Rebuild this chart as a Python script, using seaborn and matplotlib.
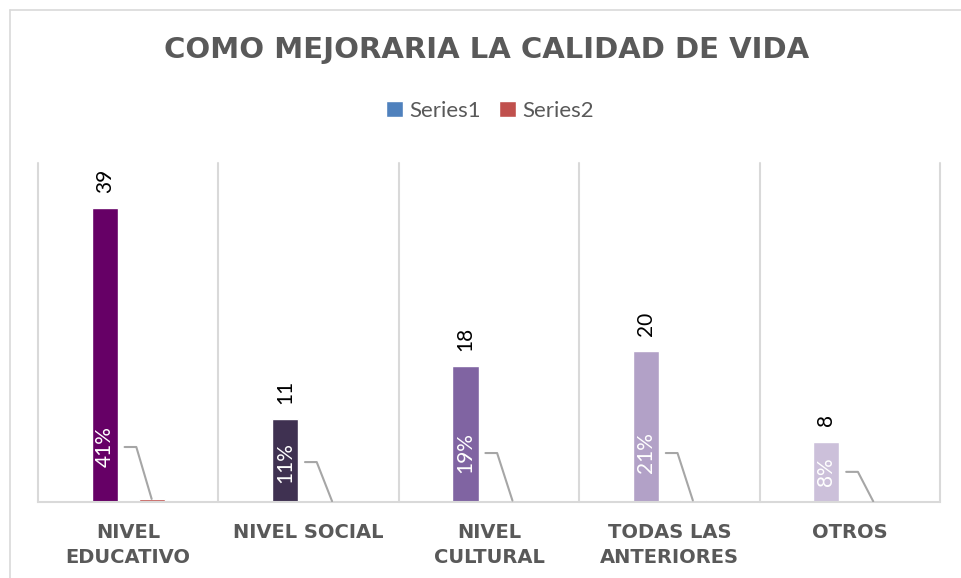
import matplotlib
matplotlib.use("Agg")
import matplotlib.pyplot as plt
import seaborn as sns
import numpy as np
import pandas as pd

# data
categories = ["NIVEL\nEDUCATIVO", "NIVEL SOCIAL", "NIVEL\nCULTURAL",
              "TODAS LAS\nANTERIORES", "OTROS"]
series1 = [39, 11, 18, 20, 8]
series2 = [0.41, 0.11, 0.19, 0.21, 0.08]
series1_colors = ["#660066", "#3F3151", "#8064A2", "#B2A1C7", "#CCC0DA"]
pct_label_y = [7.3, 5.3, 6.5, 6.5, 4.0]   # where the % labels sit (data units)

df = pd.DataFrame({
    "categoria": categories * 2,
    "serie": ["Series1"] * len(categories) + ["Series2"] * len(categories),
    "valor": series1 + series2,
})

sns.set_theme(style="white")
plt.rcParams["font.family"] = ["Lato", "DejaVu Sans"]

GRAY = "#595959"
LINE = "#D9D9D9"

fig = plt.figure(figsize=(9.62, 5.78), dpi=100)
ax = fig.add_axes([38 / 962, 76 / 578, 902 / 962, 339 / 578])

sns.barplot(data=df, x="categoria", y="valor", hue="serie",
            palette={"Series1": "#4F81BD", "Series2": "#C0504D"},
            width=0.52, gap=0.44, errorbar=None, saturation=1, ax=ax)

# Series1 bars use one colour per category
for bar, c in zip(ax.containers[0], series1_colors):
    bar.set_facecolor(c)

ax.set_ylim(0, 45)
ax.set_xlim(-0.5, len(categories) - 0.5)
ax.set_xlabel("")
ax.set_ylabel("")
ax.set_yticks([])
for s in ["left", "right", "top"]:
    ax.spines[s].set_visible(False)
ax.spines["bottom"].set_color(LINE)
ax.spines["bottom"].set_linewidth(1.5)

# vertical separators between categories
for b in np.arange(-0.5, len(categories)):
    ax.axvline(b, color=LINE, lw=1.5, zorder=0, clip_on=False)

ax.tick_params(axis="x", length=0, pad=15)
for lab in ax.get_xticklabels():
    lab.set_fontfamily("DejaVu Sans")
    lab.set_fontweight("bold")
    lab.set_fontsize(14)
    lab.set_color(GRAY)
    lab.set_linespacing(1.4)

# value labels above Series1
ax.bar_label(ax.containers[0], labels=[str(v) for v in series1],
             rotation=90, padding=11, fontsize=15, color="black")

# Series2 percentage labels inside Series1 bars, with leader lines
for i, (v, y) in enumerate(zip(series2, pct_label_y)):
    b1 = ax.containers[0][i]
    b2 = ax.containers[1][i]
    x1 = b1.get_x() + b1.get_width() / 2
    x2 = b2.get_x() + b2.get_width() / 2
    ax.text(x1, y, f"{v:.0%}", rotation=90, ha="center", va="center",
            color="white", fontsize=15)
    ax.plot([i - 0.02, i + 0.045, x2], [y, y, b2.get_height()],
            color="#A6A6A6", lw=1.5, zorder=3)

sns.move_legend(ax, "center", bbox_to_anchor=(490 / 962, 1 - 111 / 578),
                bbox_transform=fig.transFigure, ncol=2, frameon=False,
                title=None, fontsize=16, labelcolor=GRAY,
                handlelength=0.75, handleheight=0.75, handletextpad=0.3,
                columnspacing=0.8)

fig.text(487 / 962, 1 - 50 / 578, "COMO MEJORARIA LA CALIDAD DE VIDA",
         ha="center", va="center", fontsize=21, fontweight="bold",
         color=GRAY, family="DejaVu Sans")

# chart frame (left and top edges visible in the reference)
fig.add_artist(plt.Line2D([9.5 / 962, 9.5 / 962], [0, 1 - 9.5 / 578],
                          transform=fig.transFigure, color=LINE, lw=1.2))
fig.add_artist(plt.Line2D([9.5 / 962, 1], [1 - 9.5 / 578, 1 - 9.5 / 578],
                          transform=fig.transFigure, color=LINE, lw=1.2))

fig.savefig("out.png", dpi=100)
